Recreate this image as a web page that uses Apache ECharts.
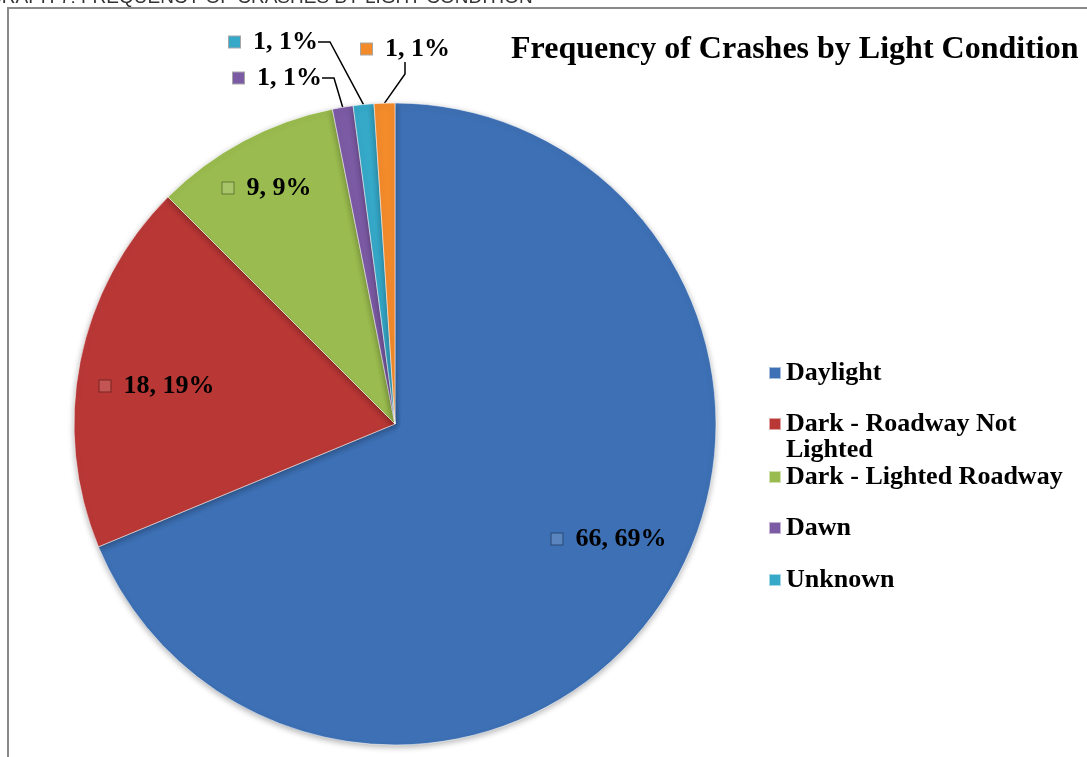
<!DOCTYPE html>
<html>
<head>
<meta charset="utf-8">
<script src="https://cdn.jsdelivr.net/npm/echarts@6/dist/echarts.min.js"></script>
<style>
  html, body { margin: 0; padding: 0; background: #fff; }
  #chart { width: 1087px; height: 757px; }
</style>
</head>
<body>
<div id="chart"></div>
<script>
// light condition categories, clockwise from 12 o'clock
const categories = ['Daylight', 'Dark - Roadway Not Lighted', 'Dark - Lighted Roadway', 'Dawn', 'Unknown', 'Dusk']
const crashCounts = [66, 18, 9, 1, 1, 1]
// the legend box in the original only had room for five entries
const legendNames = categories.slice(0, 5)
const sliceColors = ['#3d70b4', '#b93836', '#9abb4f', '#7c5ba5', '#36a8c8', '#f38b2b']

const pieCenter = [395, 424]
const pieRadius = 321
const serifFont = '"Liberation Serif", "Times New Roman", serif'

// label spots as placed in the original (inside: centre of label, outside: left/middle)
const labelSpots = {
  0: [609, 539],
  1: [157, 386],
  2: [267, 188],
  3: [233, 78],
  4: [229, 42],
  5: [361, 49]
}
const outsideSlices = [3, 4, 5]

const chart = echarts.init(document.getElementById('chart'))

const rich = { t: { fontFamily: serifFont, fontWeight: 'bold', fontSize: 26, color: '#000', padding: [0, 0, 0, 13] } }
sliceColors.forEach((c, i) => {
  rich['k' + i] = {
    width: 11,
    height: 11,
    backgroundColor: echarts.color.lift(c, outsideSlices.includes(i) ? 0 : 0.15),
    borderColor: 'rgba(0,0,0,0.35)',
    borderWidth: 1
  }
})

const pieData = categories.map((name, i) => {
  const outside = outsideSlices.includes(i)
  return {
    name,
    value: crashCounts[i],
    itemStyle: { color: sliceColors[i] },
    label: { position: outside ? 'outside' : 'inside' },
    labelLine: { show: outside }
  }
})

// one legend per row so the wrapped entry keeps the Excel spacing
const legendRows = [368, 419, 472, 523, 575]
const legends = legendNames.map((name, i) => {
  const wrapped = name === 'Dark - Roadway Not Lighted'
  return {
    data: [name],
    left: 763,
    top: wrapped ? legendRows[i] - 39 : legendRows[i] - 13,
    orient: 'vertical',
    icon: 'rect',
    itemWidth: 12,
    itemHeight: 12,
    selectedMode: false,
    // empty first line keeps the icon level with the first text line
    formatter: n => (n === 'Dark - Roadway Not Lighted' ? '\nDark - Roadway Not\nLighted' : n),
    textStyle: {
      fontFamily: serifFont,
      fontWeight: 'bold',
      fontSize: 26,
      lineHeight: 26,
      color: '#000'
    }
  }
})

chart.setOption({
  animation: false,
  title: {
    text: 'Frequency of Crashes by Light Condition',
    left: 506,
    top: 29,
    textStyle: { fontFamily: serifFont, fontWeight: 'bold', fontSize: 32, color: '#000' }
  },
  legend: legends,
  graphic: [
    {
      type: 'text',
      left: -13,
      top: -12,
      silent: true,
      style: {
        text: 'GRAPH 7: FREQUENCY OF CRASHES BY LIGHT CONDITION',
        font: '19px "Liberation Sans", Arial, sans-serif',
        fill: '#333'
      }
    },
    {
      type: 'rect',
      silent: true,
      shape: { x: 8, y: 8, width: 1300, height: 1000 },
      style: { fill: 'none', stroke: '#8a8a8a', lineWidth: 2 }
    }
  ],
  series: [{
    name: 'Light Condition',
    type: 'pie',
    center: pieCenter,
    radius: pieRadius,
    startAngle: 90,
    clockwise: true,
    avoidLabelOverlap: false,
    itemStyle: {
      borderColor: 'rgba(255,255,255,0.55)',
      borderWidth: 1,
      shadowBlur: 6,
      shadowColor: 'rgba(0,0,0,0.3)',
      shadowOffsetY: 2
    },
    label: {
      show: true,
      formatter: p => '{k' + p.dataIndex + '|}{t|' + p.value + ', ' + Math.round(p.percent) + '%}',
      rich
    },
    labelLine: {
      length: 8,
      length2: 12,
      lineStyle: { color: '#000', width: 1.5 }
    },
    labelLayout(params) {
      const i = params.dataIndex
      const spot = labelSpots[i]
      if (outsideSlices.includes(i)) {
        return { x: spot[0], y: spot[1], align: 'left', verticalAlign: 'middle' }
      }
      return { x: spot[0], y: spot[1], align: 'center', verticalAlign: 'middle' }
    },
    data: pieData
  }]
})
</script>
</body>
</html>
